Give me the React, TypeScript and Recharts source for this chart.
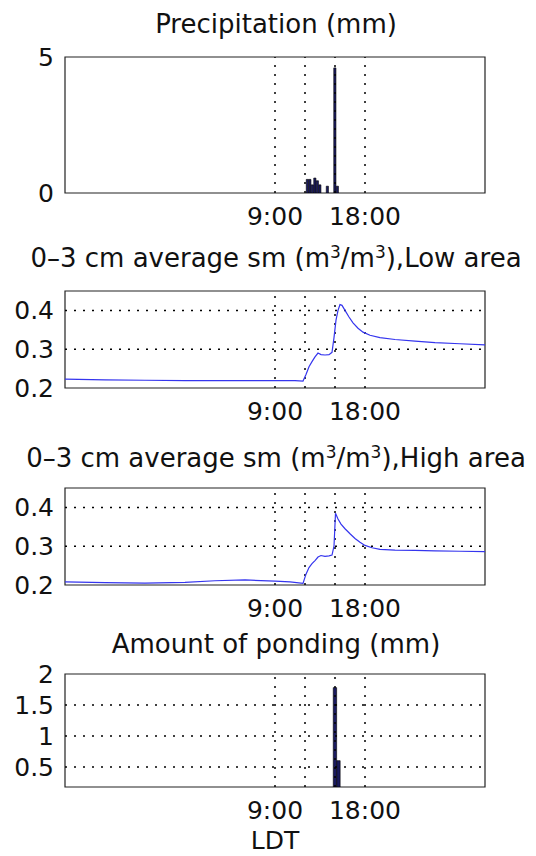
import React from "react";
import {
  ComposedChart,
  Bar,
  Line,
  XAxis,
  YAxis,
  ReferenceLine,
  ReferenceArea,
} from "recharts";

// time axis, hours relative to midnight of the event day (LDT)
const xDomain = [-12, 30];
const xTicks = [9, 12, 15, 18];
const xTickLabels = ["9:00", "", "", "18:00"];

// precipitation (mm), 15 min bins
const precipHours = [12.25, 12.5, 12.75, 13.0, 13.25, 13.5, 14.25, 15.0, 15.25];
const precipMm = [0.5, 0.5, 0.3, 0.55, 0.45, 0.3, 0.25, 4.6, 0.25];

// 0-3 cm soil moisture, low area
const lowHours = [-12, -8, -4, 0, 4, 8, 9, 11, 11.8, 12.1, 12.4, 12.7, 13.0, 13.3, 13.6, 14.0, 14.4, 14.7, 14.9, 15.1, 15.3, 15.5, 15.7, 16.0, 16.4, 16.8, 17.3, 17.8, 18.5, 19.5, 21, 23, 25, 27.5, 30];
const lowSm = [0.223, 0.221, 0.22, 0.219, 0.219, 0.219, 0.219, 0.219, 0.218, 0.235, 0.255, 0.268, 0.28, 0.29, 0.286, 0.285, 0.286, 0.292, 0.33, 0.375, 0.4, 0.415, 0.413, 0.4, 0.383, 0.368, 0.354, 0.344, 0.336, 0.33, 0.325, 0.321, 0.317, 0.314, 0.311];

// 0-3 cm soil moisture, high area
const highHours = [-12, -8, -4, 0, 3, 6, 9, 10.5, 11.8, 12.1, 12.4, 12.7, 13.0, 13.3, 13.6, 14.0, 14.4, 14.7, 14.9, 15.05, 15.3, 15.6, 16.0, 16.5, 17.0, 17.5, 18.0, 18.7, 19.5, 21, 23, 25, 27.5, 30];
const highSm = [0.208, 0.206, 0.205, 0.207, 0.211, 0.213, 0.21, 0.208, 0.204, 0.228, 0.245, 0.255, 0.263, 0.272, 0.276, 0.274, 0.275, 0.277, 0.3, 0.385, 0.37, 0.357, 0.345, 0.332, 0.32, 0.31, 0.302, 0.296, 0.292, 0.29, 0.289, 0.288, 0.287, 0.286];

// ponding (mm)
const pondHours = [15.0, 15.35];
const pondMm = [1.78, 0.6];

const FONT = "'DejaVu Sans', sans-serif";
const INK = "#111";
const BLUE = "#3535ee";
const NAVY = "#1a1a5e";
const PAD = 20; // room above each plot for the top tick label

const toRows = (hours: number[], vals: number[]) =>
  hours.map((h, i) => ({ h, v: vals[i] }));

const tickStyle = { fontSize: 25, fill: INK, fontFamily: FONT };
const dots = { stroke: "#000", strokeWidth: 1.5, strokeDasharray: "2 7" };

type PanelProps = {
  plotTop: number;
  plotH: number;
  yDomain: number[];
  yTicks: number[];
  yGrid: number[];
  children: React.ReactNode;
  data: { h: number; v: number }[];
};

const Panel = ({ plotTop, plotH, yDomain, yTicks, yGrid, children, data }: PanelProps) => (
  <div style={{ position: "absolute", left: 0, top: plotTop - PAD }}>
    <ComposedChart
      width={536}
      height={PAD + plotH + 40}
      data={data}
      margin={{ top: PAD, right: 51, bottom: 0, left: 0 }}
    >
      <XAxis
        type="number"
        dataKey="h"
        domain={xDomain}
        allowDataOverflow
        ticks={xTicks}
        interval={0}
        tickFormatter={(v) => xTickLabels[xTicks.indexOf(v)] ?? ""}
        tick={tickStyle}
        tickLine={false}
        axisLine={false}
        tickMargin={8}
        height={40}
      />
      <YAxis
        type="number"
        domain={yDomain}
        allowDataOverflow
        ticks={yTicks}
        interval={0}
        tick={tickStyle}
        tickLine={false}
        axisLine={false}
        tickMargin={5}
        width={65}
      />
      {xTicks.map((x) => (
        <ReferenceLine key={"x" + x} x={x} {...dots} />
      ))}
      {yGrid.map((y) => (
        <ReferenceLine key={"y" + y} y={y} {...dots} />
      ))}
      {children}
      <ReferenceArea
        x1={xDomain[0]}
        x2={xDomain[1]}
        y1={yDomain[0]}
        y2={yDomain[1]}
        fill="none"
        stroke="#222"
        strokeWidth={1.2}
        fillOpacity={0}
      />
    </ComposedChart>
  </div>
);

const Sup = ({ children }: { children: React.ReactNode }) => (
  <tspan dy={-9} fontSize={17}>
    {children}
  </tspan>
);

const SmTitle = ({ y, area }: { y: number; area: string }) => (
  <text x={276} y={y} textAnchor="middle" fontSize={26}>
    0–3 cm average sm (m<Sup>3</Sup>
    <tspan dy={9}>/m</tspan>
    <Sup>3</Sup>
    <tspan dy={9}>),{area} area</tspan>
  </text>
);

export default function App() {
  return (
    <div
      style={{
        position: "absolute",
        left: 0,
        top: 0,
        width: 536,
        height: 856,
        background: "#fff",
        fontFamily: FONT,
        overflow: "hidden",
      }}
    >
      <Panel plotTop={57} plotH={136} yDomain={[0, 5]} yTicks={[0, 5]} yGrid={[]} data={toRows(precipHours, precipMm)}>
        <Bar dataKey="v" fill={NAVY} stroke="#000" strokeWidth={0.6} barSize={2.2} isAnimationActive={false} />
      </Panel>
      <Panel plotTop={291} plotH={97} yDomain={[0.2, 0.45]} yTicks={[0.2, 0.3, 0.4]} yGrid={[0.3, 0.4]} data={toRows(lowHours, lowSm)}>
        <Line dataKey="v" type="linear" stroke={BLUE} strokeWidth={1.2} dot={false} isAnimationActive={false} />
      </Panel>
      <Panel plotTop={488} plotH={97} yDomain={[0.2, 0.45]} yTicks={[0.2, 0.3, 0.4]} yGrid={[0.3, 0.4]} data={toRows(highHours, highSm)}>
        <Line dataKey="v" type="linear" stroke={BLUE} strokeWidth={1.2} dot={false} isAnimationActive={false} />
      </Panel>
      <Panel plotTop={674} plotH={113} yDomain={[0.175, 2]} yTicks={[0.5, 1, 1.5, 2]} yGrid={[0.5, 1, 1.5]} data={toRows(pondHours, pondMm)}>
        <Bar dataKey="v" fill={NAVY} stroke="#000" strokeWidth={0.6} barSize={3.4} isAnimationActive={false} />
      </Panel>
      <svg
        width={536}
        height={856}
        style={{ position: "absolute", left: 0, top: 0, pointerEvents: "none" }}
        fontFamily={FONT}
        fill={INK}
      >
        <text x={276} y={32.5} textAnchor="middle" fontSize={26}>
          Precipitation (mm)
        </text>
        <SmTitle y={266.5} area="Low" />
        <SmTitle y={466.5} area="High" />
        <text x={276} y={653} textAnchor="middle" fontSize={26}>
          Amount of ponding (mm)
        </text>
        <text x={275} y={849} textAnchor="middle" fontSize={25}>
          LDT
        </text>
      </svg>
    </div>
  );
}
